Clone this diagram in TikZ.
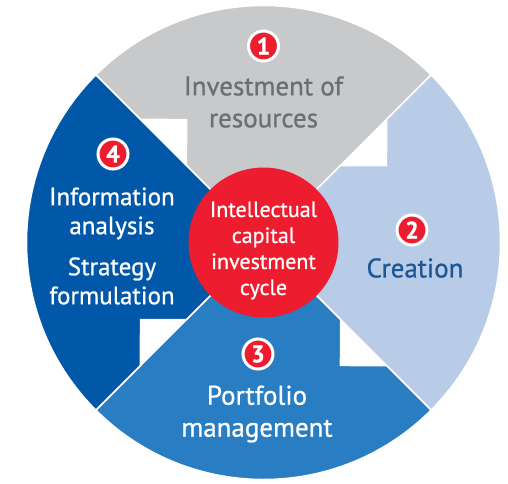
\documentclass[tikz,border=0pt]{standalone}
\usepackage{fontspec}
\setmainfont{PT Sans}[FakeBold=0.8]
\definecolor{sectorgray}{RGB}{200,201,203}
\definecolor{sectorlight}{RGB}{184,204,232}
\definecolor{sectormid}{RGB}{41,125,195}
\definecolor{sectordark}{RGB}{2,88,168}
\definecolor{cyclered}{RGB}{237,28,46}
\definecolor{graytext}{RGB}{109,110,112}
\definecolor{creationtext}{RGB}{28,88,150}

\begin{document}
\begin{tikzpicture}[x=1pt,y=1pt,
    sector/.style={draw=white,line width=1.5pt,line join=miter},
    badge/.style={circle,fill=cyclered,draw=white,line width=3pt,
        minimum size=30pt,inner sep=0pt,text=white,
        font=\fontsize{24}{24}\selectfont\bfseries},
    stage/.style={align=center,font=\fontsize{27}{32}\selectfont},
    hub/.style={circle,fill=cyclered,minimum size=150pt,inner sep=0pt},
    hubtext/.style={align=center,text=white,font=\fontsize{22}{26}\selectfont}
]
    \useasboundingbox (-263.5,-240.5) rectangle (244.5,242.5);

    % sectors with the notch cut on the leading edge
    \foreach \ang/\col in {90/sectorgray,0/sectorlight,-90/sectormid,180/sectordark} {
        \filldraw[sector,fill=\col] (0,0) -- (\ang-45:237pt)
            arc[start angle=\ang-45,end angle=\ang+45,radius=237pt]
            -- (\ang+45:174pt) -- (\ang+32.05:145.1pt)
            -- (\ang+45:108.9pt) -- cycle;
    }

    \node[hub] (hub) at (0,0) {};
    \node[hubtext] (hub-label) at (0,-8)
        {Intellectual\\capital\\investment\\cycle};

    \node[badge] (badge-1) at (0,196.5) {1};
    \node[stage,text=graytext] (stage-1) at (0,140.5)
        {Investment of\\resources};

    \node[badge] (badge-2) at (148.5,12.5) {2};
    \node[stage,text=creationtext] (stage-2) at (151.5,-25.5) {Creation};

    \node[badge] (badge-3) at (-5.5,-111.5) {3};
    \node[stage,text=white] (stage-3) at (-6.5,-171.5)
        {Portfolio\\management};

    \node[badge] (badge-4) at (-150.5,88.5) {4};
    \node[stage,text=white,font=\fontsize{25}{29}\selectfont] (stage-4)
        at (-151.5,-3.5)
        {Information\\analysis\\[12pt]Strategy\\formulation};

\end{tikzpicture}
\end{document}
